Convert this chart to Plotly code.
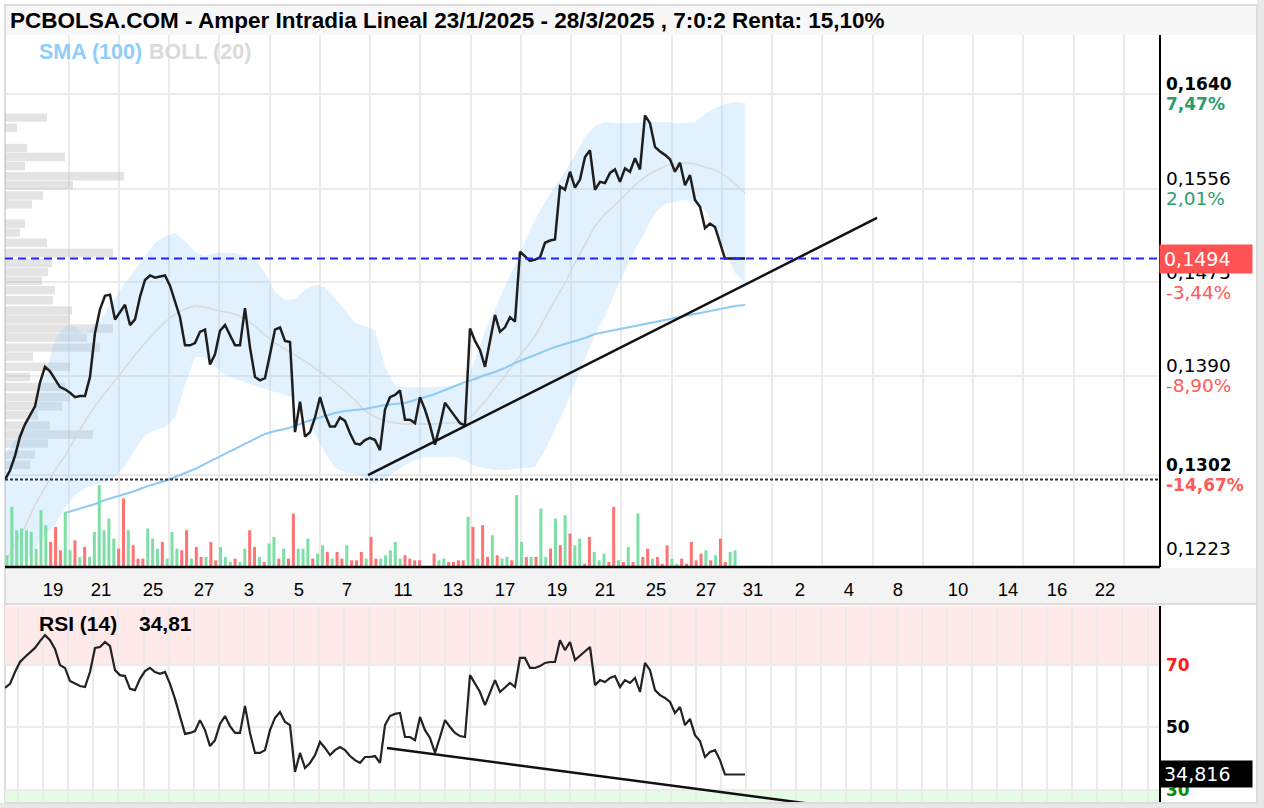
import plotly.graph_objects as go

W, H = 1264, 808

title_text = "PCBOLSA.COM - Amper Intradia Lineal 23/1/2025 - 28/3/2025 , 7:0:2 Renta: 15,10%"

# --- intraday price (one value per slot) ---
price = [
    0.1298, 0.1306, 0.1319, 0.1336, 0.1347, 0.1355, 0.1363, 0.1384, 0.1398, 0.1394,
    0.1387, 0.1380, 0.1378, 0.1375, 0.1371, 0.1372, 0.1372, 0.1389, 0.1428, 0.1449,
    0.1461, 0.1462, 0.1440, 0.1446, 0.1453, 0.1435, 0.1440, 0.1460, 0.1475, 0.1479,
    0.1477, 0.1478, 0.1479, 0.1470, 0.1457, 0.1442, 0.1417, 0.1417, 0.1419, 0.1429,
    0.1431, 0.1400, 0.1409, 0.1430, 0.1435, 0.1426, 0.1417, 0.1417, 0.1450, 0.1415,
    0.1389, 0.1386, 0.1388, 0.1409, 0.1431, 0.1433, 0.1421, 0.1420, 0.1340, 0.1367,
    0.1336, 0.1340, 0.1353, 0.1371, 0.1356, 0.1345, 0.1345, 0.1353, 0.1350, 0.1339,
    0.1330, 0.1329, 0.1333, 0.1335, 0.1333, 0.1324, 0.1360, 0.1371, 0.1373, 0.1377,
    0.1351, 0.1351, 0.1348, 0.1371, 0.1360, 0.1346, 0.1329, 0.1346, 0.1366, 0.1360,
    0.1354, 0.1348, 0.1346, 0.1432, 0.1421, 0.1413, 0.1398, 0.1422, 0.1444, 0.1429,
    0.1433, 0.1442, 0.1438, 0.1500, 0.1496, 0.1492, 0.1493, 0.1495, 0.1508, 0.1510,
    0.1511, 0.1558, 0.1555, 0.1571, 0.1557, 0.1564, 0.1584, 0.1590, 0.1555, 0.1562,
    0.1561, 0.1570, 0.1573, 0.1562, 0.1574, 0.1571, 0.1583, 0.1573, 0.1621, 0.1614,
    0.1593, 0.1589, 0.1586, 0.1582, 0.1571, 0.1579, 0.1559, 0.1568, 0.1546, 0.1540,
    0.1521, 0.1525, 0.1522, 0.1508, 0.1494, 0.1494, 0.1494, 0.1494, 0.1494,
]

# --- Bollinger (20), one value every 2 slots ---
band_every = 2
boll_upper = [
    0.13198, 0.13331, 0.13464, 0.13641, 0.13907, 0.14218, 0.14342, 0.14333, 0.14271, 0.14351,
    0.14457, 0.14590, 0.14723, 0.14839, 0.14954, 0.15078, 0.15140, 0.15167, 0.15096, 0.14998,
    0.14963, 0.14989, 0.14989, 0.14989, 0.14963, 0.14936, 0.14812, 0.14644, 0.14573, 0.14581,
    0.14661, 0.14706, 0.14688, 0.14590, 0.14484, 0.14369, 0.14342, 0.14306, 0.13978, 0.13810,
    0.13801, 0.13801, 0.13801, 0.13801, 0.13810, 0.13819, 0.13827, 0.14040, 0.14298, 0.14493,
    0.14697, 0.14883, 0.15096, 0.15282, 0.15442, 0.15584, 0.15708, 0.15859, 0.16019, 0.16116,
    0.16152, 0.16143, 0.16143, 0.16143, 0.16152, 0.16152, 0.16152, 0.16143, 0.16143, 0.16152,
    0.16223, 0.16276, 0.16311, 0.16329, 0.16320,
]
boll_lower = [
    0.12089, 0.12177, 0.12266, 0.12372, 0.12488, 0.12577, 0.12727, 0.12843, 0.12905, 0.12931,
    0.12958, 0.13002, 0.13100, 0.13242, 0.13375, 0.13419, 0.13446, 0.13526, 0.13819, 0.14067,
    0.14067, 0.13978, 0.13907, 0.13872, 0.13845, 0.13810, 0.13783, 0.13756, 0.13730, 0.13703,
    0.13535, 0.13384, 0.13215, 0.13082, 0.13047, 0.13029, 0.12993, 0.12940, 0.12993, 0.13047,
    0.13109, 0.13153, 0.13180, 0.13180, 0.13180, 0.13180, 0.13153, 0.13100, 0.13082, 0.13064,
    0.13064, 0.13073, 0.13082, 0.13091, 0.13242, 0.13428, 0.13614, 0.13836, 0.14058, 0.14262,
    0.14431, 0.14644, 0.14839, 0.15016, 0.15185, 0.15344, 0.15424, 0.15442, 0.15460, 0.15433,
    0.15371, 0.15220, 0.15007, 0.14812, 0.14723,
]
boll_mid = [
    0.12248, 0.12399, 0.12559, 0.12754, 0.12914, 0.13064, 0.13189, 0.13348, 0.13499, 0.13632,
    0.13748, 0.13863, 0.13978, 0.14085, 0.14191, 0.14289, 0.14377, 0.14448, 0.14493, 0.14519,
    0.14510, 0.14484, 0.14466, 0.14448, 0.14404, 0.14342, 0.14262, 0.14191, 0.14138, 0.14085,
    0.14031, 0.13969, 0.13907, 0.13836, 0.13765, 0.13685, 0.13588, 0.13535, 0.13499, 0.13481,
    0.13473, 0.13473, 0.13473, 0.13473, 0.13481, 0.13481, 0.13499, 0.13570, 0.13677, 0.13783,
    0.13898, 0.14022, 0.14138, 0.14253, 0.14413, 0.14573, 0.14723, 0.14901, 0.15069, 0.15229,
    0.15335, 0.15415, 0.15504, 0.15593, 0.15664, 0.15717, 0.15761, 0.15779, 0.15788, 0.15779,
    0.15752, 0.15726, 0.15673, 0.15602, 0.15522,
]

# --- SMA (100), one value every 2 slots, starting at slot 12 ---
sma_start = 12
sma100 = [
    0.12683, 0.12710, 0.12736, 0.12763, 0.12798, 0.12825, 0.12852, 0.12878, 0.12914, 0.12940,
    0.12967, 0.13002, 0.13038, 0.13073, 0.13118, 0.13162, 0.13206, 0.13251, 0.13295, 0.13339,
    0.13384, 0.13410, 0.13428, 0.13455, 0.13490, 0.13517, 0.13544, 0.13570, 0.13588, 0.13597,
    0.13606, 0.13623, 0.13641, 0.13650, 0.13659, 0.13685, 0.13712, 0.13739, 0.13774, 0.13810,
    0.13845, 0.13872, 0.13907, 0.13934, 0.13969, 0.14014, 0.14049, 0.14085, 0.14120, 0.14156,
    0.14182, 0.14209, 0.14235, 0.14271, 0.14289, 0.14306, 0.14324, 0.14342, 0.14360, 0.14377,
    0.14395, 0.14413, 0.14431, 0.14448, 0.14466, 0.14484, 0.14502, 0.14519, 0.14528,
]

# --- RSI (14) ---
rsi = [
    62.5, 63.8, 67.6, 70.8, 72.4, 73.7, 75.3, 77.5, 79.4, 77.8,
    75.0, 69.8, 68.9, 64.7, 63.8, 63.1, 62.8, 67.6, 75.3, 75.6,
    77.2, 75.9, 68.2, 66.6, 66.3, 62.2, 61.8, 65.4, 67.9, 68.9,
    67.6, 67.0, 67.6, 63.8, 59.0, 53.8, 47.8, 48.1, 48.7, 52.2,
    49.0, 43.9, 45.8, 51.0, 53.5, 50.3, 48.1, 48.1, 56.7, 48.1,
    41.7, 41.7, 42.6, 49.0, 52.9, 54.8, 51.6, 50.6, 35.6, 41.7,
    36.9, 38.5, 41.0, 45.2, 43.3, 41.0, 42.6, 43.6, 42.6, 40.7,
    39.4, 38.5, 40.4, 40.4, 40.7, 38.5, 50.6, 53.5, 54.2, 54.5,
    46.8, 46.8, 45.8, 53.2, 49.0, 46.5, 41.7, 46.8, 52.2, 50.0,
    48.1, 47.1, 46.8, 66.6, 63.8, 61.2, 57.0, 61.2, 65.0, 61.2,
    62.5, 64.1, 62.8, 72.1, 72.1, 68.9, 68.9, 69.5, 70.5, 70.8,
    70.8, 77.8, 74.6, 77.2, 71.4, 72.7, 74.0, 75.6, 63.4, 65.0,
    64.4, 65.7, 66.3, 62.8, 65.0, 64.1, 65.7, 61.2, 70.5, 68.2,
    61.8, 60.2, 59.3, 58.0, 54.5, 56.4, 50.6, 52.6, 47.4, 45.5,
    40.4, 42.0, 42.6, 39.4, 34.8, 34.8, 34.8, 34.8, 34.8,
]

# --- volume (thousands), g = up, r = down ---
vol_start = 0.4
vol_step = 0.9707
volume = [
    35, 180, 110, 115, 110, 105, 55, 170, 125, 75,
    120, 50, 165, 50, 80, 30, 60, 30, 105, 245,
    110, 145, 85, 55, 205, 110, 65, 25, 25, 115,
    85, 55, 75, 25, 105, 55, 50, 110, 25, 60,
    30, 30, 75, 20, 60, 30, 15, 25, 15, 55,
    110, 60, 30, 15, 70, 90, 25, 55, 25, 160,
    55, 55, 85, 25, 40, 65, 45, 25, 45, 25,
    65, 20, 20, 45, 25, 90, 25, 25, 35, 50,
    75, 25, 35, 25, 20, 20, 0, 0,
    40, 20, 25, 15, 15, 20, 20, 150, 120, 25,
    125, 30, 95, 35, 25, 30, 20, 215, 75, 30,
    30, 30, 175, 30, 55, 145, 65, 155, 100, 65,
    85, 10, 90, 45, 20, 40, 15, 180, 20, 15,
    60, 15, 160, 30, 55, 25, 30, 10, 65, 25,
    10, 25, 10, 75, 20, 40, 50, 20, 35, 85,
    15, 45, 50,
]
vol_dir = (
    "gggggggggr" "rrggrgrggg" "gggrrgrrrg" "ggrgggrrgr" "rgrrgggrgg"
    "rrgrggrgrr" "gggrggrgrr" "grrrgrrggg" "ggrrrr" "rr"
    "rggrrrrgrg" "rrgrggrggr" "grggrgrgrg" "grrgggrrgr" "grgrrgrrrg"
    "grrrrrgrgr" "rgg"
)

# --- volume at price (left profile) ---
profile_price = [0.1619, 0.1610, 0.1592, 0.1584, 0.1576, 0.1567, 0.1559, 0.1550, 0.1542, 0.1525,
                 0.1517, 0.1508, 0.1499, 0.1490, 0.1482, 0.1474, 0.1466, 0.1457, 0.1448, 0.1440,
                 0.1432, 0.1424, 0.1415, 0.1407, 0.1398, 0.1389, 0.1380, 0.1371, 0.1363, 0.1355,
                 0.1346, 0.1338, 0.1330, 0.1320, 0.1311]
profile_vol = [42, 12, 22, 60, 20, 119, 68, 38, 27, 20,
               15, 42, 108, 47, 43, 37, 50, 48, 67, 65,
               108, 82, 95, 28, 65, 25, 60, 65, 57, 33,
               45, 88, 43, 30, 25]

# --- trend lines ---
trend_price_x = [72.6, 174.4]
trend_price_y = [0.1302, 0.1530]
trend_rsi_x = [76.4, 163.0]
trend_rsi_y = [43.3, 25.0]

# --- levels & labels ---
last_price = 0.1494
last_price_text = "0,1494"
min_price = 0.1298
axis_vals = [0.1640, 0.1556, 0.1473, 0.1390, 0.1302, 0.1228]
axis_text = ["0,1640", "0,1556", "0,1473", "0,1390", "0,1302", "0,1223"]
axis_pct = ["7,47%", "2,01%", "-3,44%", "-8,90%", "-14,67%", ""]
axis_bold = [True, False, False, False, True, False]
rsi_last = 34.816
rsi_last_text = "34,816"
rsi_title_value = "34,81"

date_labels = ["19", "21", "25", "27", "3", "5", "7", "11", "13", "17", "19", "21",
               "25", "27", "31", "2", "4", "8", "10", "14", "16", "22"]
date_slots = [9.6, 19.2, 29.6, 39.8, 48.8, 58.8, 68.4, 79.6, 89.6, 100.0, 110.4, 120.0,
              130.2, 140.2, 149.6, 159.0, 168.8, 178.6, 190.6, 200.6, 210.4, 220.0]

# ---------------- figure ----------------
GRID = "#ebebeb"
GREEN_T = "#2a9d6e"
RED_T = "#ff5a5a"


def px(x):
    return x / W


def py(y):
    return 1 - y / H


XD = [px(5), px(1160)]
MAIN_Y = [py(567), py(35)]
RSI_Y = [py(802), py(606)]
SLOT_RANGE = [0, 231]

price_x = list(range(len(price)))
band_x = [i * band_every for i in range(len(boll_upper))]
sma_x = [sma_start + i * band_every for i in range(len(sma100))]
vol_x = [vol_start + j * vol_step for j in range(len(volume))]
vol_colors = ["#7ddfa6" if c == "g" else "#ff7373" for c in vol_dir]

fig = go.Figure()

# volume profile (base subplot, lowest layer)
fig.add_trace(go.Bar(orientation="h", x=profile_vol, y=profile_price, width=0.00075,
                     marker=dict(color="rgba(185,185,185,0.38)", line=dict(width=0)),
                     xaxis="x", yaxis="y", hoverinfo="skip"))

# Bollinger band
fig.add_trace(go.Scatter(x=band_x, y=boll_lower, mode="lines", line=dict(width=0, color="rgba(0,0,0,0)"),
                         xaxis="x2", yaxis="y", hoverinfo="skip"))
fig.add_trace(go.Scatter(x=band_x, y=boll_upper, mode="lines", line=dict(width=0, color="rgba(0,0,0,0)"),
                         fill="tonexty", fillcolor="rgba(144,202,249,0.27)",
                         xaxis="x2", yaxis="y", hoverinfo="skip"))
fig.add_trace(go.Scatter(x=band_x, y=boll_mid, mode="lines", line=dict(width=1.5, color="#d9d9d9"),
                         xaxis="x2", yaxis="y"))
# SMA 100
fig.add_trace(go.Scatter(x=sma_x, y=sma100, mode="lines", line=dict(width=2, color="#8fcaf5"),
                         xaxis="x2", yaxis="y"))
# price
fig.add_trace(go.Scatter(x=price_x, y=price, mode="lines", line=dict(width=2.5, color="#1e1e1e"),
                         xaxis="x2", yaxis="y"))
# trend line
fig.add_trace(go.Scatter(x=trend_price_x, y=trend_price_y, mode="lines", line=dict(width=2.5, color="#111"),
                         xaxis="x2", yaxis="y"))
# volume
fig.add_trace(go.Bar(x=vol_x, y=volume, width=0.6, marker=dict(color=vol_colors, line=dict(width=0)),
                     xaxis="x2", yaxis="y2", hoverinfo="skip"))
# RSI
fig.add_trace(go.Scatter(x=price_x, y=rsi, mode="lines", line=dict(width=2.2, color="#222"),
                         xaxis="x3", yaxis="y3"))
fig.add_trace(go.Scatter(x=trend_rsi_x, y=trend_rsi_y, mode="lines", line=dict(width=2.5, color="#111"),
                         xaxis="x3", yaxis="y3"))

shapes = []
# frame / backgrounds
shapes.append(dict(type="rect", xref="paper", yref="paper", x0=px(5), x1=px(1257), y0=py(35), y1=py(5),
                   fillcolor="#f7f7f7", line=dict(width=0), layer="below"))
shapes.append(dict(type="rect", xref="paper", yref="paper", x0=px(5), x1=px(1257), y0=py(603), y1=py(568),
                   fillcolor="#f3f3f3", line=dict(width=0), layer="below"))
shapes.append(dict(type="rect", xref="paper", yref="paper", x0=px(1257), x1=1, y0=0, y1=1,
                   fillcolor="#e8e8e8", line=dict(width=0), layer="below"))
shapes.append(dict(type="rect", xref="paper", yref="paper", x0=0, x1=1, y0=0, y1=py(803),
                   fillcolor="#e8e8e8", line=dict(width=0), layer="below"))
shapes.append(dict(type="rect", xref="paper", yref="paper", x0=px(5), x1=px(1257), y0=py(803), y1=py(5),
                   fillcolor="rgba(0,0,0,0)", line=dict(width=2, color="#dcdcdc"), layer="below"))
shapes.append(dict(type="line", xref="paper", yref="paper", x0=px(5), x1=px(1257), y0=py(604), y1=py(604),
                   line=dict(width=2, color="#dcdcdc"), layer="below"))
# RSI zones
shapes.append(dict(type="rect", xref="paper", yref="y3", x0=XD[0], x1=XD[1], y0=70, y1=88.72,
                   fillcolor="#ffe9e9", line=dict(width=0), layer="below"))
shapes.append(dict(type="rect", xref="paper", yref="y3", x0=XD[0], x1=XD[1], y0=26.0, y1=30,
                   fillcolor="#e4fbe4", line=dict(width=0), layer="below"))
# level lines
shapes.append(dict(type="line", xref="paper", yref="y", x0=XD[0], x1=XD[1], y0=last_price, y1=last_price,
                   line=dict(width=2, color="#2424ff", dash="8px,5px")))
shapes.append(dict(type="line", xref="paper", yref="y", x0=XD[0], x1=XD[1], y0=min_price, y1=min_price,
                   line=dict(width=2, color="#333333", dash="3px,2px")))
# axis lines
shapes.append(dict(type="line", xref="paper", yref="paper", x0=px(5), x1=px(1160), y0=py(567), y1=py(567),
                   line=dict(width=2.5, color="black")))
shapes.append(dict(type="line", xref="paper", yref="paper", x0=px(1160), x1=px(1160), y0=py(567), y1=py(35),
                   line=dict(width=2, color="black")))
shapes.append(dict(type="line", xref="paper", yref="paper", x0=px(1160), x1=px(1160), y0=py(802), y1=py(606),
                   line=dict(width=2, color="black")))

ann = []
ann.append(dict(text="<b>" + title_text + "</b>", xref="paper", yref="paper", x=px(8), y=py(20.5),
                xanchor="left", yanchor="middle", showarrow=False,
                font=dict(family="Liberation Sans", size=22.5, color="black")))
ann.append(dict(text="<b>SMA (100)</b>", xref="paper", yref="paper", x=px(37), y=py(52),
                xanchor="left", yanchor="middle", showarrow=False,
                font=dict(family="Liberation Sans", size=21.5, color="#90cdf9")))
ann.append(dict(text="<b>BOLL (20)</b>", xref="paper", yref="paper", x=px(147), y=py(52),
                xanchor="left", yanchor="middle", showarrow=False,
                font=dict(family="Liberation Sans", size=21.5, color="#dadada")))

for v, t, p, b in zip(axis_vals, axis_text, axis_pct, axis_bold):
    pos = v >= last_price
    col = GREEN_T if v > last_price else RED_T
    ann.append(dict(text=("<b>%s</b>" % t) if b else t, xref="paper", yref="y", x=px(1164), y=v,
                    xanchor="left", yanchor="middle", yshift=10, showarrow=False,
                    font=dict(family="DejaVu Sans", size=17 if b else 18.5, color="black")))
    if p:
        ann.append(dict(text=("<b>%s</b>" % p) if b else p, xref="paper", yref="y", x=px(1164), y=v,
                        xanchor="left", yanchor="middle", yshift=-10, showarrow=False,
                        font=dict(family="DejaVu Sans", size=17 if b else 18.5, color=col)))

ann.append(dict(text=last_price_text, xref="paper", yref="y", x=px(1159), y=last_price,
                xanchor="left", yanchor="middle", showarrow=False, align="left",
                width=84, height=20, borderpad=4, bgcolor="#ff5252",
                font=dict(family="DejaVu Sans", size=19, color="white")))

# RSI panel texts
ann.append(dict(text="<b>RSI (14)</b>", xref="paper", yref="paper", x=px(37), y=py(623),
                xanchor="left", yanchor="middle", showarrow=False,
                font=dict(family="Liberation Sans", size=21, color="black")))
ann.append(dict(text="<b>" + rsi_title_value + "</b>", xref="paper", yref="paper", x=px(137), y=py(623),
                xanchor="left", yanchor="middle", showarrow=False,
                font=dict(family="Liberation Sans", size=21, color="black")))
for lv, col in [(70, "#ff1a1a"), (50, "black"), (30, "#0a8a0a")]:
    ann.append(dict(text="<b>%d</b>" % lv, xref="paper", yref="y3", x=px(1164), y=lv,
                    xanchor="left", yanchor="middle", showarrow=False,
                    font=dict(family="DejaVu Sans", size=17, color=col)))
ann.append(dict(text=rsi_last_text, xref="paper", yref="y3", x=px(1159), y=rsi_last,
                xanchor="left", yanchor="middle", showarrow=False, align="left",
                width=84, height=18, borderpad=4, bgcolor="black",
                font=dict(family="DejaVu Sans", size=19, color="white")))

grid_slots = [12.7 + 10.05 * k for k in range(22)]

fig.update_layout(
    width=W, height=H, margin=dict(l=0, r=0, t=0, b=0), autosize=False,
    paper_bgcolor="white", plot_bgcolor="rgba(0,0,0,0)", showlegend=False,
    shapes=shapes, annotations=ann, hovermode=False,
    xaxis=dict(domain=XD, range=[0, 1155], anchor="y", visible=False, fixedrange=True),
    yaxis=dict(domain=MAIN_Y, range=[0.12204, 0.16923], anchor="x", tickmode="array",
               tickvals=axis_vals[:5], showticklabels=False, ticks="", showgrid=True,
               gridcolor=GRID, gridwidth=2, zeroline=False, showline=False),
    xaxis2=dict(overlaying="x", anchor="y", side="bottom", range=SLOT_RANGE, tickmode="array",
                tickvals=date_slots, ticktext=date_labels, showgrid=False, ticks="outside",
                ticklen=6, tickcolor="rgba(0,0,0,0)", zeroline=False, showline=False,
                tickfont=dict(family="Liberation Sans", size=18.5, color="black"),
                minor=dict(tickmode="array", tickvals=grid_slots, showgrid=True,
                           gridcolor=GRID, gridwidth=2, ticks="")),
    yaxis2=dict(overlaying="y", anchor="x2", range=[0, 1590], visible=False),
    xaxis3=dict(domain=XD, anchor="y3", range=SLOT_RANGE, tickmode="linear", tick0=2.6, dtick=5.02,
                showticklabels=False, ticks="", showgrid=True, gridcolor=GRID, gridwidth=2,
                zeroline=False, showline=False),
    yaxis3=dict(domain=RSI_Y, anchor="x3", range=[26.0, 88.72], tickmode="array", tickvals=[30, 50, 70],
                showticklabels=False, ticks="", showgrid=True, gridcolor=GRID, gridwidth=2,
                zeroline=False, showline=False),
)

fig.write_html("out.html")
